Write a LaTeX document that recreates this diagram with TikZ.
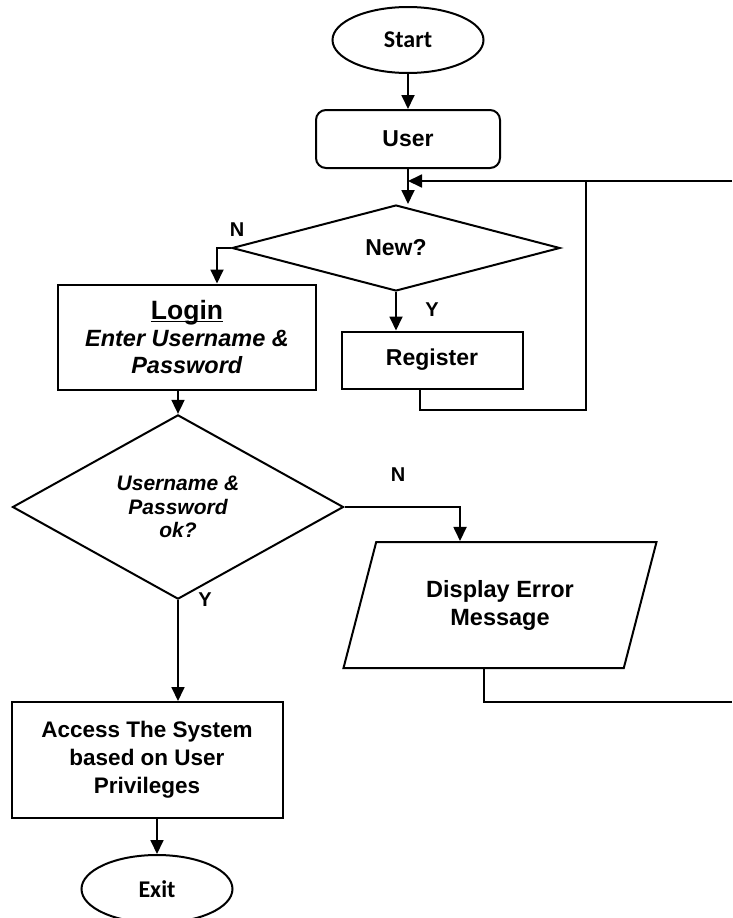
\documentclass[tikz,border=0pt]{standalone}
\usepackage{fontspec}
\setmainfont{Liberation Sans}
\newfontfamily\calibrifont{Carlito}
\usetikzlibrary{arrows.meta,shapes.geometric}

\newcommand\loginul[1]{\setbox0\hbox{#1}\rlap{\rule[-3pt]{\wd0}{1.8pt}}\box0}

\tikzset{
  flowline/.style={line width=1.8pt, -{Triangle[length=14pt,width=13pt]}},
  plainline/.style={line width=1.8pt},
  terminal/.style={ellipse, draw, line width=2pt, inner sep=0pt,
    font=\calibrifont\bfseries\fontsize{24}{28}\selectfont},
  procbox/.style={rectangle, draw, line width=2pt, align=center,
    font=\bfseries\fontsize{23}{28}\selectfont},
  decision/.style={diamond, draw, line width=2pt, inner sep=0pt, align=center},
  iobox/.style={trapezium, trapezium left angle=60, trapezium right angle=120,
    trapezium stretches body, draw, line width=2pt, align=center,
    font=\bfseries\fontsize{23.5}{28}\selectfont},
  yn/.style={font=\bfseries\fontsize{20}{24}\selectfont, inner sep=0pt}
}

\begin{document}
\begin{tikzpicture}[x=1pt,y=-1pt]
  \useasboundingbox (0,0) rectangle (732,918);

  % shapes
  \node[terminal, minimum width=151pt, minimum height=66pt] (start) at (408,40) {Start};
  \node[procbox, rounded corners=10pt, minimum width=184pt, minimum height=58pt] (user) at (408,139) {User};
  \node[decision, minimum width=328pt, minimum height=86pt,
    font=\bfseries\fontsize{23}{28}\selectfont] (new) at (396,248) {New?};
  \node[procbox, minimum width=258pt, minimum height=105pt, font=\bfseries\fontsize{23.5}{27}\selectfont] (login) at (187,337)
    {{\fontsize{26.5}{27}\selectfont\loginul{Login}}\\ \textit{Enter Username \&}\\ \textit{Password}};
  \node[procbox, minimum width=181pt, minimum height=57pt] (reg) at (432,360) {Register};
  \node[decision, minimum width=331pt, minimum height=155pt,
    font=\bfseries\itshape\fontsize{21}{23.5}\selectfont] (cred) at (178,507)
    {Username \&\\ Password\\ ok?};
  \node[iobox, minimum width=313pt, minimum height=126pt] (err) at (500,605) {Display Error\\ Message};
  \node[procbox, minimum width=271pt, minimum height=116pt, font=\bfseries\fontsize{22.5}{28}\selectfont] (access) at (147,760)
    {Access The System\\ based on User\\ Privileges};
  \node[terminal, minimum width=151pt, minimum height=68pt] (exit) at (157,889) {Exit};

  % branch labels
  \node[yn] (nnew) at (237,230) {N};
  \node[yn] (ynew) at (432,310) {Y};
  \node[yn] (ncred) at (398,475) {N};
  \node[yn] (ycred) at (205,600) {Y};

  % free ends at the right edge
  \coordinate (loopin) at (732,181);
  \coordinate (regturn) at (586,410);
  \coordinate (errout) at (732,702);

  % connectors
  \draw[flowline] (start.south) -- (user.north);
  \draw[flowline] (user.south) -- (user.south |- new.north);
  \draw[flowline] (loopin) -- (loopin -| user.south);
  \draw[flowline] (new.west) -| ([xshift=30pt]login.north);
  \draw[flowline] (new.south) -- (new.south |- reg.north);
  \draw[plainline] ([xshift=-12pt]reg.south) |- (regturn) -- (regturn |- loopin);
  \draw[flowline] (login.south -| cred.north) -- (cred.north);
  \draw[flowline] (cred.east) -| ([xshift=-40pt]err.north);
  \draw[plainline] ([xshift=-16pt]err.south) |- (errout);
  \draw[flowline] (cred.south) -- (cred.south |- access.north);
  \draw[flowline] (access.south -| exit.north) -- (exit.north);
\end{tikzpicture}
\end{document}
